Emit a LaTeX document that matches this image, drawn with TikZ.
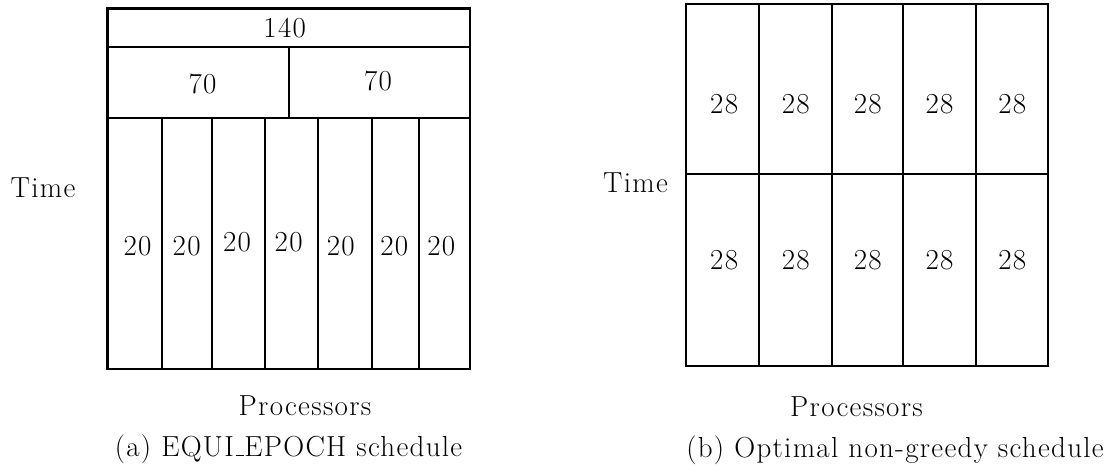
\documentclass[tikz,border=0pt]{standalone}
\usepackage{fontspec}
\setmainfont{Latin Modern Roman}[LetterSpace=4.5]
% old-style underscore: a short rule sitting on the baseline
\newcommand{\lowbar}{\kern.06em\rule{.3em}{.05em}}
\begin{document}
\begin{tikzpicture}[x=1pt,y=-1pt,
  grid/.style={line width=2.2pt,line cap=rect},
  lbl/.style={inner sep=0pt,anchor=base,font=\fontsize{29}{32}\selectfont}]
\useasboundingbox (0,0) rectangle (1116,474);

% left schedule: 140 / 70 70 / seven 20s
\draw[grid] (107.5,8.5) rectangle (470,369);
\draw[grid] (107.5,47) -- (470,47);
\draw[grid] (107.5,118) -- (470,118);
\draw[grid] (289,47) -- (289,118);
\foreach \x in {161.7,212,265,318,371.7}
  \draw[grid] (\x,118) -- (\x,369);
\draw[grid] (419,118) -- (419,366.5);

\node[lbl] (t140) at (284.7,37.7) {140};
\node[lbl] (t70a) at (202.5,93.3) {70};
\node[lbl] (t70b) at (378,90) {70};
\node[lbl] (p1) at (137.5,255) {20};
\node[lbl] (p2) at (186.7,255) {20};
\node[lbl] (p3) at (237,251.7) {20};
\node[lbl] (p4) at (288.7,251.7) {20};
\node[lbl] (p5) at (340.8,255) {20};
\node[lbl] (p6) at (394.3,255) {20};
\node[lbl] (p7) at (441.3,255) {20};

\node[lbl] (timeA) at (43,197) {Time};
\node[lbl] (procA) at (305,415) {Processors};
\node[lbl] (capA) at (288.5,456) {(a) EQUI\lowbar EPOCH schedule};

% right schedule: two rows of five 28s
\draw[grid] (686,4) rectangle (1048,366);
\draw[grid] (686,174) -- (1048,174);
\foreach \x in {759,832,903,976}
  \draw[grid] (\x,6) -- (\x,366);

\foreach \x [count=\i] in {724.2,795.8,867.8,939.5,1012.2}{
  \node[lbl] (u\i) at (\x,113.3) {28};
  \node[lbl] (l\i) at (\x,269.5) {28};
}

\node[lbl] (timeB) at (635.5,192) {Time};
\node[lbl] (procB) at (856.5,416) {Processors};
\node[lbl] (capB) at (895,457) {(b) Optimal non-greedy schedule};
\end{tikzpicture}
\end{document}
